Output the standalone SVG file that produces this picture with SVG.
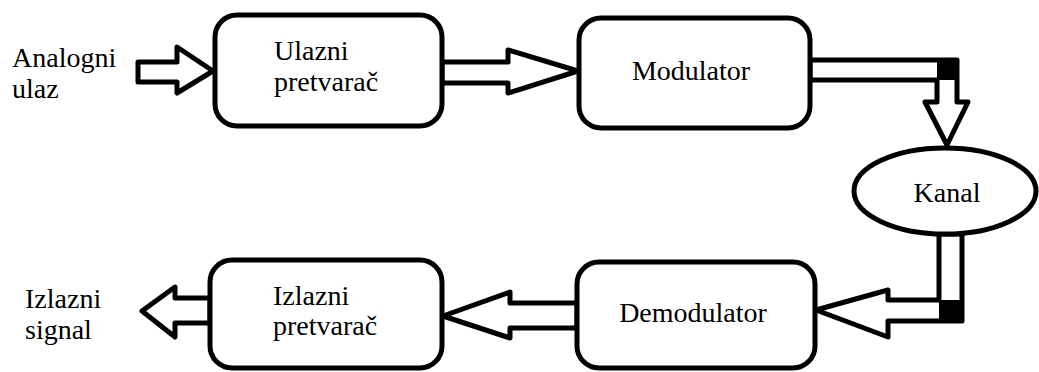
<svg xmlns="http://www.w3.org/2000/svg" width="1039" height="372" viewBox="0 0 1039 372">
<style>
.box{fill:#fff;stroke:#000;stroke-width:5}
.arr{fill:#fff;stroke:#000;stroke-width:5;stroke-linejoin:round}
.t{font-family:'Times New Roman',Times,'Liberation Serif',serif;font-size:28px;fill:#000}
.c{text-anchor:middle}
</style>
<rect width="1039" height="372" fill="#fff"/>
<g id="connectors">
<polygon class="arr" points="138,62 177,62 177,47 213,71 177,93 177,82 138,82"/>
<polygon class="arr" points="442,62 508,62 508,50 578,71 508,93 508,83 442,83"/>
<polygon class="arr" points="810,60 957,60 957,102 968,102 947,145 925,102 937,102 937,80 810,80"/>
<rect x="937" y="60" width="20" height="20" fill="#000"/>
<polygon class="arr" points="939,234 962,234 962,321 888,321 888,337 816,310 888,290 888,300 939,300"/>
<rect x="939" y="300" width="23" height="21" fill="#000"/>
<polygon class="arr" points="577,303 510,303 510,292 443,316 510,338 510,328 577,328"/>
<polygon class="arr" points="210,298 175,298 175,287 142,311 175,337 175,323 210,323"/>
</g>
<g id="input-label">
<text class="t" x="12" y="67">Analogni</text>
<text class="t" x="12" y="98">ulaz</text>
</g>
<g id="ulazni-pretvarac">
<rect class="box" x="215" y="15" width="227" height="111" rx="22"/>
<text class="t" x="274" y="60">Ulazni</text>
<text class="t" x="274" y="91">pretvarač</text>
</g>
<g id="modulator">
<rect class="box" x="579" y="18" width="231" height="110" rx="22"/>
<text class="t c" x="691" y="80">Modulator</text>
</g>
<g id="kanal">
<ellipse class="box" cx="945" cy="191" rx="91" ry="43"/>
<text class="t c" x="947" y="202">Kanal</text>
</g>
<g id="demodulator">
<rect class="box" x="577" y="262" width="238" height="106" rx="22"/>
<text class="t c" x="693" y="322">Demodulator</text>
</g>
<g id="izlazni-pretvarac">
<rect class="box" x="210" y="260" width="232" height="108" rx="22"/>
<text class="t" x="273" y="305">Izlazni</text>
<text class="t" x="273" y="335">pretvarač</text>
</g>
<g id="output-label">
<text class="t" x="25" y="308">Izlazni</text>
<text class="t" x="25" y="339">signal</text>
</g>
</svg>
